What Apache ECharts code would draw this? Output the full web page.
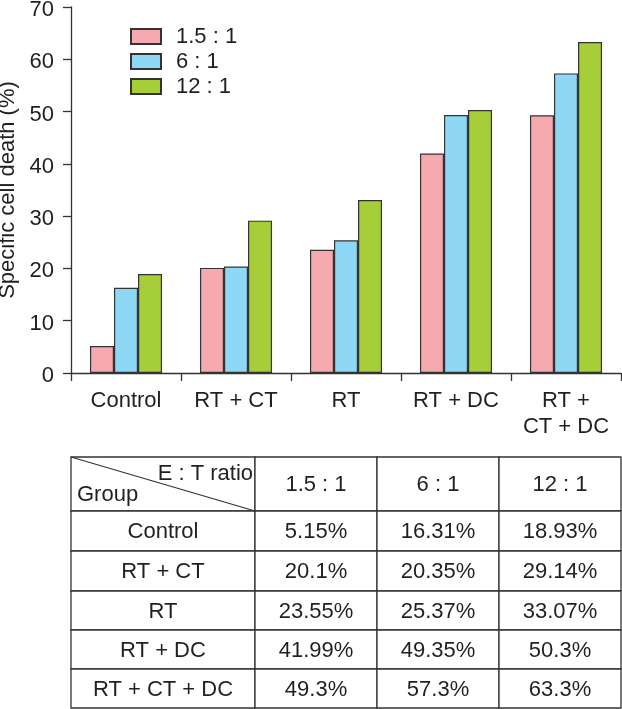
<!DOCTYPE html>
<html>
<head>
<meta charset="utf-8">
<script src="https://cdn.jsdelivr.net/npm/echarts@6/dist/echarts.min.js"></script>
<style>
html,body{margin:0;padding:0;background:#fff;}
#chart{width:622px;height:709px;}
</style>
</head>
<body>
<div id="chart"></div>
<script>
// ---- data ----
const categories = ['Control', 'RT + CT', 'RT', 'RT + DC', 'RT + CT + DC'];
const axisLabels = ['Control', 'RT + CT', 'RT', 'RT + DC', 'RT +\nCT + DC'];
const ratios = ['1.5 : 1', '6 : 1', '12 : 1'];
const ratio15 = [5.15, 20.1, 23.55, 41.99, 49.3];
const ratio6 = [16.31, 20.35, 25.37, 49.35, 57.3];
const ratio12 = [18.93, 29.14, 33.07, 50.3, 63.3];
const yTicks = [0, 10, 20, 30, 40, 50, 60, 70];
const headerLeft = 'Group';
const headerRight = 'E : T ratio';

// ---- styles ----
const FONT = 'Liberation Sans, Arial, Helvetica, sans-serif';
const FS = 22;
const TXT = '#231f20';
const colors = ['#f6a9ae', '#8fd8f5', '#a6ce39'];
const seriesData = [ratio15, ratio6, ratio12];

const chart = echarts.init(document.getElementById('chart'), null, {renderer: 'canvas'});

// ---- table layout ----
const colX = [71, 255, 377, 499, 621];
const rowY = [457, 511, 551, 591, 630, 669, 708];
const g = [];
for (let r = 0; r < rowY.length - 1; r++) {
  for (let c = 0; c < colX.length - 1; c++) {
    g.push({type: 'rect', shape: {x: colX[c], y: rowY[r], width: colX[c+1]-colX[c], height: rowY[r+1]-rowY[r]},
      style: {fill: '#fff', stroke: '#333', lineWidth: 1.3}, z: 1});
    let text = null;
    if (r === 0 && c > 0) text = ratios[c-1];
    else if (r > 0 && c === 0) text = categories[r-1];
    else if (r > 0) text = seriesData[c-1][r-1] + '%';
    if (text !== null) {
      g.push({type: 'text', x: (colX[c]+colX[c+1])/2, y: (rowY[r]+rowY[r+1])/2 + 1,
        style: {text: text, fill: TXT, font: FS + 'px ' + FONT, align: 'center', verticalAlign: 'middle'}, z: 2});
    }
  }
}
g.push({type: 'line', shape: {x1: colX[0], y1: rowY[0], x2: colX[1], y2: rowY[1]}, style: {stroke: '#333', lineWidth: 1.2}, z: 3});
g.push({type: 'text', x: colX[1] - 2, y: rowY[0] + 17,
  style: {text: headerRight, fill: TXT, font: FS + 'px ' + FONT, align: 'right', verticalAlign: 'middle'}, z: 2});
g.push({type: 'text', x: colX[0] + 6, y: rowY[0] + 38,
  style: {text: headerLeft, fill: TXT, font: FS + 'px ' + FONT, align: 'left', verticalAlign: 'middle'}, z: 2});

const option = {
  backgroundColor: '#fff',
  animation: false,
  textStyle: {fontFamily: FONT},
  grid: {left: 71, right: 1, top: 7, bottom: 336, containLabel: false, outerBoundsMode: 'none'},
  legend: {
    orient: 'vertical', left: 130, top: 24, padding: 0, itemWidth: 30, itemHeight: 15, itemGap: 0,
    icon: 'rect',
    textStyle: {fontSize: FS, color: TXT, fontFamily: FONT, padding: [0, 0, 0, 10], lineHeight: 25},
    data: ratios
  },
  xAxis: {
    type: 'category', data: axisLabels,
    axisLine: {lineStyle: {color: '#333', width: 1.3}},
    axisTick: {show: true, length: 8, lineStyle: {color: '#333', width: 1.3}},
    axisLabel: {fontSize: FS, color: TXT, margin: 15, lineHeight: 26, fontFamily: FONT, interval: 0}
  },
  yAxis: {
    type: 'value', min: yTicks[0], max: yTicks[yTicks.length-1], interval: 10,
    name: 'Specific cell death (%)', nameLocation: 'middle', nameGap: 45,
    nameTextStyle: {fontSize: FS, color: TXT, fontFamily: FONT},
    axisLine: {show: true, lineStyle: {color: '#333', width: 1.3}},
    axisTick: {show: true, length: 8, lineStyle: {color: '#333', width: 1.3}},
    axisLabel: {
      margin: 17, formatter: '{t|{value}}',
      rich: {t: {fontSize: FS, color: TXT, fontFamily: FONT, padding: [6, 0, 0, 0]}}
    },
    splitLine: {show: false}
  },
  series: ratios.map((name, i) => ({
    name: name, type: 'bar', data: seriesData[i],
    barGap: '0%', barCategoryGap: '34.5%',
    itemStyle: {color: colors[i], borderColor: '#333', borderWidth: 1.2}
  })),
  graphic: g
};
chart.setOption(option);
</script>
</body>
</html>
